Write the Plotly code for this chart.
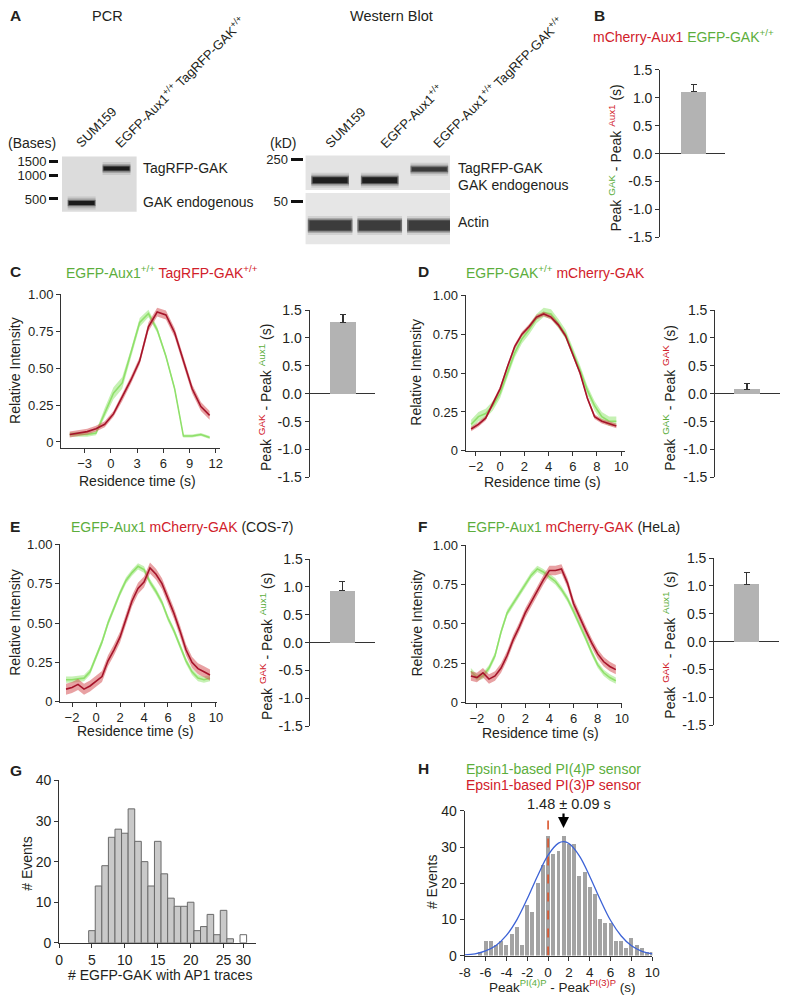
import plotly.graph_objects as go

# ---------------- data ----------------
# Panel A: PCR gel
pcr_lanes = [1, 2]
pcr_lane_labels = ["SUM159", "EGFP-Aux1<sup>+/+</sup> TagRFP-GAK<sup>+/+</sup>"]
pcr_band_bases = [446, 1225]
pcr_ladder_bases = [500, 1000, 1500]
# Panel A: Western blot
wb_lanes = [1, 2, 3]
wb_lane_labels = ["SUM159", "EGFP-Aux1<sup>+/+</sup>",
                  "EGFP-Aux1<sup>+/+</sup> TagRFP-GAK<sup>+/+</sup>"]
wb_gak_kd = [143, 143, 200]
wb_actin_kd = [42, 42, 42]
wb_upper_ladder = [250]
wb_lower_ladder = [50]

# Peak-time differences (s), panels B-F
peak_panels = ["B", "C", "D", "E", "F"]
peak_diff_mean = [1.11, 1.28, 0.08, 0.93, 1.03]
peak_diff_sem = [0.13, 0.14, 0.11, 0.17, 0.21]

# Panel C
c_time = [-4.7, -3.7, -2.7, -1.7, -0.7, 0.3, 1.3, 2.3, 3.3, 4.3, 5.3, 6.3, 7.3, 8.3, 9.3, 10.3, 11.3]
c_green = [0.05, 0.05, 0.05, 0.06, 0.20, 0.33, 0.40, 0.60, 0.81, 0.87, 0.76, 0.58, 0.36, 0.04, 0.04, 0.05, 0.03]
c_green_sem = [0.015, 0.015, 0.015, 0.015, 0.03, 0.04, 0.04, 0.03, 0.03, 0.025, 0.02, 0.015, 0.015, 0.01, 0.01, 0.01, 0.01]
c_red = [0.05, 0.06, 0.07, 0.09, 0.12, 0.19, 0.30, 0.42, 0.55, 0.78, 0.88, 0.86, 0.74, 0.55, 0.36, 0.24, 0.18]
c_red_sem = [0.02, 0.02, 0.02, 0.02, 0.02, 0.02, 0.025, 0.025, 0.025, 0.03, 0.03, 0.03, 0.03, 0.03, 0.03, 0.03, 0.03]

# Panel D
d_time = [-2.4, -1.8, -1.2, -0.6, 0.0, 0.6, 1.2, 1.8, 2.4, 3.0, 3.6, 4.2, 4.8, 5.4, 6.0, 6.6, 7.2, 7.8, 8.4, 9.0, 9.6]
d_green = [0.17, 0.22, 0.24, 0.29, 0.37, 0.50, 0.63, 0.72, 0.78, 0.85, 0.89, 0.88, 0.82, 0.75, 0.64, 0.52, 0.39, 0.29, 0.22, 0.19, 0.19]
d_red = [0.14, 0.17, 0.21, 0.30, 0.40, 0.54, 0.67, 0.75, 0.80, 0.86, 0.88, 0.86, 0.81, 0.74, 0.62, 0.50, 0.34, 0.22, 0.19, 0.175, 0.16]
d_green_sem = 0.03
d_red_sem = 0.015

# Panels E and F (same time grid)
ef_time = [-2.5, -2.0, -1.5, -1.0, -0.5, 0.0, 0.5, 1.0, 1.5, 2.0, 2.5, 3.0, 3.5,
           4.0, 4.5, 5.0, 5.5, 6.0, 6.5, 7.0, 7.5, 8.0, 8.5, 9.0, 9.5]
e_green = [0.14, 0.14, 0.145, 0.15, 0.19, 0.29, 0.38, 0.50, 0.60, 0.69, 0.77, 0.82, 0.86,
           0.84, 0.76, 0.70, 0.63, 0.53, 0.45, 0.36, 0.26, 0.19, 0.15, 0.14, 0.15]
e_red = [0.08, 0.09, 0.11, 0.08, 0.10, 0.13, 0.16, 0.26, 0.33, 0.41, 0.52, 0.64, 0.72,
         0.76, 0.85, 0.81, 0.75, 0.66, 0.56, 0.45, 0.33, 0.25, 0.21, 0.19, 0.17]
e_green_sem = 0.02
e_red_sem = 0.035
f_green = [0.20, 0.16, 0.17, 0.22, 0.30, 0.45, 0.57, 0.63, 0.69, 0.75, 0.81, 0.85, 0.83,
           0.80, 0.77, 0.72, 0.66, 0.58, 0.50, 0.41, 0.32, 0.24, 0.19, 0.16, 0.14]
f_red = [0.17, 0.16, 0.19, 0.15, 0.17, 0.22, 0.30, 0.40, 0.48, 0.57, 0.64, 0.71, 0.78,
         0.84, 0.84, 0.85, 0.76, 0.63, 0.54, 0.46, 0.38, 0.31, 0.26, 0.23, 0.21]
f_green_sem = 0.02
f_red_sem = 0.03

# Panel G histogram
g_bins = [5, 6, 7, 8, 9, 10, 11, 12, 13, 14, 15, 16, 17, 18, 19, 20, 21, 22, 23, 24, 25, 26]
g_counts = [3, 14, 19, 26, 28, 27, 33, 25, 20, 14, 25, 17, 11, 9, 9, 10, 3, 4, 7, 2, 8, 1]
g_outlier_bin = [28]
g_outlier_count = [2]
g_tickvals = [0, 5, 10, 15, 20, 25, 28]
g_ticktext = ["0", "5", "10", "15", "20", "25", "30"]

# Panel H histogram + gaussian fit
h_bins = [-6.5, -6.0, -5.5, -5.0, -4.5, -4.0, -3.5, -3.0, -2.5, -2.0, -1.5, -1.0, -0.5, 0.0,
          0.5, 1.0, 1.5, 2.0, 2.5, 3.0, 3.5, 4.0, 4.5, 5.0, 5.5, 6.0, 6.5, 7.0, 7.5, 8.0,
          8.5, 9.0, 9.5, 10.0]
h_counts = [1, 4, 4, 3, 4, 3, 6, 8, 3, 14, 12, 20, 25, 33,
            28, 29, 33, 31, 31, 22, 23, 19, 17, 10, 9, 9, 4, 4, 2, 5,
            3, 2, 1, 1]
h_fit_x = [-8, -7, -6, -5, -4, -3, -2, -1, 0, 1, 1.5, 2, 3, 4, 5, 6, 7, 8, 9, 10]
h_fit_y = [0.2, 0.5, 1.3, 2.8, 5.6, 9.9, 15.7, 22.1, 27.8, 31.1, 31.5, 31.0, 27.6, 21.9,
           15.5, 9.7, 5.5, 2.7, 1.2, 0.5]
h_ref_x = [0, 0]
h_ref_y = [0, 39]
h_peak_shift = 1.48
h_arrow_y = 35.3

# ---------------- styling ----------------
W, H = 788, 1001
FONT = "Liberation Sans, Arial, Helvetica, sans-serif"
TXT = "#231f20"
GREEN_TXT = "#5cae3c"
RED_TXT = "#d1202a"
GREEN_LINE = "#8fe06a"
GREEN_BAND = "rgba(160,232,130,0.6)"
RED_LINE = "#a5142a"
RED_BAND = "rgba(214,84,88,0.55)"
BAR_C = "#b3b3b3"
AX = "#333333"
FS = 14          # general label size
FS_TICK = 13     # line-plot tick labels


def px(x):
    return x / W


def py(y):
    return 1 - y / H


traces = []
layout = {}
ann = []
shapes = []


def axes(n, x0, x1, y0, y1, xa, ya):
    xk = "xaxis" if n == 1 else "xaxis%d" % n
    yk = "yaxis" if n == 1 else "yaxis%d" % n
    xn = "x" if n == 1 else "x%d" % n
    yn = "y" if n == 1 else "y%d" % n
    xd = dict(domain=[px(x0), px(x1)], anchor=yn)
    xd.update(xa)
    yd = dict(domain=[py(y1), py(y0)], anchor=xn)
    yd.update(ya)
    layout[xk] = xd
    layout[yk] = yd
    return xn, yn


def ax_style(size=FS_TICK, **kw):
    d = dict(showgrid=False, zeroline=False, showline=True, linecolor=AX, linewidth=1,
             ticks="outside", ticklen=4, tickwidth=1, tickcolor=AX,
             tickfont=dict(family=FONT, size=size, color=TXT), fixedrange=True)
    d.update(kw)
    return d


def text(x, y, s, size=FS, color=TXT, xanchor="left", yanchor="middle", angle=0, bold=False):
    ann.append(dict(x=px(x), y=py(y), xref="paper", yref="paper",
                    text=("<b>%s</b>" % s) if bold else s, showarrow=False,
                    xanchor=xanchor, yanchor=yanchor, textangle=angle,
                    font=dict(family=FONT, size=size, color=color)))


def rect(x0, y0, x1, y1, color):
    shapes.append(dict(type="rect", xref="paper", yref="paper", x0=px(x0), x1=px(x1),
                       y0=py(y1), y1=py(y0), fillcolor=color, line=dict(width=0), layer="below"))


def band(xa, ya, lane, yval, half, width, color):
    for extra, alpha in [(9, 0.10), (5, 0.22), (2, 0.45)]:
        traces.append(go.Scatter(x=[lane - half, lane + half], y=[yval, yval], mode="lines",
                                 line=dict(color="rgba(30,30,30,%.2f)" % alpha, width=width + extra),
                                 xaxis=xa, yaxis=ya, hoverinfo="skip", showlegend=False))
    traces.append(go.Scatter(x=[lane - half * 0.93, lane + half * 0.93], y=[yval, yval], mode="lines",
                             line=dict(color=color, width=width), xaxis=xa, yaxis=ya,
                             hoverinfo="skip", showlegend=False))


def span(s, c):
    return '<span style="color:%s">%s</span>' % (c, s)


# ================= Panel A =================
text(2, 8, "A", size=15.5, bold=True)
text(103, 8, "PCR", size=14.5, xanchor="center")
text(392, 8, "Western Blot", size=14.5, xanchor="center")

# PCR gel
rect(57, 151, 133, 207, "#dcdcdc")
xa, ya = axes(1, 57, 133, 151, 207,
              dict(visible=False, range=[0.437, 2.577], fixedrange=True),
              dict(type="log", range=[2.537, 3.239], anchor="free", position=px(53),
                   showgrid=False, zeroline=False, showline=False, ticks="outside",
                   ticklen=9, tickwidth=3, tickcolor="#111", tickvals=pcr_ladder_bases,
                   ticktext=[str(v) for v in pcr_ladder_bases],
                   tickfont=dict(family=FONT, size=13, color=TXT), fixedrange=True))
for lane, b in zip(pcr_lanes, pcr_band_bases):
    band(xa, ya, lane, b, 0.4, 4, "#1b1b1b")
text(0, 137, "(Bases)", size=14)
text(137, 163, "TagRFP-GAK", size=FS)
text(137, 197, "GAK endogenous", size=FS)
for lbl, x0 in zip(pcr_lane_labels, [65, 104]):
    text(x0, 148, lbl, size=13, xanchor="left", yanchor="bottom", angle=-45)

# Western blot
rect(305, 150, 452, 185, "#e3e3e3")
rect(305, 188, 452, 240, "#e6e6e6")
xa2, ya2 = axes(2, 305, 452, 150, 185,
                dict(visible=False, range=[0.505, 3.416], fixedrange=True),
                dict(range=[91.8, 270.4], anchor="free", position=px(302),
                     showgrid=False, zeroline=False, showline=False, ticks="outside",
                     ticklen=12, tickwidth=3, tickcolor="#111", tickvals=wb_upper_ladder,
                     ticktext=[str(v) for v in wb_upper_ladder],
                     tickfont=dict(family=FONT, size=13, color=TXT), fixedrange=True))
xa3, ya3 = axes(3, 305, 452, 188, 240,
                dict(visible=False, range=[0.505, 3.416], fixedrange=True),
                dict(range=[35.7, 53.0], anchor="free", position=px(302),
                     showgrid=False, zeroline=False, showline=False, ticks="outside",
                     ticklen=12, tickwidth=3, tickcolor="#111", tickvals=wb_lower_ladder,
                     ticktext=[str(v) for v in wb_lower_ladder],
                     tickfont=dict(family=FONT, size=13, color=TXT), fixedrange=True))
for lane, kd in zip(wb_lanes, wb_gak_kd):
    if kd > 180:
        band(xa2, ya2, lane, kd, 0.38, 4, "#3a3a3a")
    else:
        band(xa2, ya2, lane, kd, 0.38, 6, "#1f1f1f")
for lane, kd in zip(wb_lanes, wb_actin_kd):
    band(xa3, ya3, lane, kd, 0.45, 10, "#3c3c3c")
text(267, 137, "(kD)", size=14)
text(458, 163, "TagRFP-GAK", size=FS)
text(458, 180, "GAK endogenous", size=FS)
text(458, 217, "Actin", size=FS)
for lbl, x0 in zip(wb_lane_labels, [319, 374, 428]):
    text(x0, 148, lbl, size=13, xanchor="left", yanchor="bottom", angle=-45)

# ================= bar panels =================
bar_ticks = [-1.5, -1.0, -0.5, 0.0, 0.5, 1.0, 1.5]
bar_ticktext = ["-1.5", "-1.0", "-0.5", "0.0", "0.5", "1.0", "1.5"]


def bar_panel(n, mean, sem, axl, axr, top, bottom, cx, bw, title, tx):
    xa, ya = axes(n, axl, axr, top, bottom,
                  dict(visible=False, range=[-(cx - axl), axr - cx], fixedrange=True),
                  ax_style(size=14, range=[-1.5, 1.5], tickvals=bar_ticks, ticktext=bar_ticktext,
                           zeroline=True, zerolinecolor=AX, zerolinewidth=1.2))
    traces.append(go.Bar(x=[0], y=[mean], width=[bw], marker=dict(color=BAR_C, line=dict(width=0)),
                         error_y=dict(type="data", array=[sem], arrayminus=[0], symmetric=False,
                                      color=AX, thickness=1.2, width=3),
                         xaxis=xa, yaxis=ya, showlegend=False, hoverinfo="skip"))
    text(tx, (top + bottom) / 2 + 4, title, size=FS, xanchor="center", yanchor="middle", angle=-90)


def ytitle(a, a_col, b, b_col):
    return ('Peak <sup>%s</sup> - Peak <sup>%s</sup> (s)' % (span(a, a_col), span(b, b_col)))


# Panel B
text(597, 8, "B", size=15.5, bold=True)
text(596, 28, span("mCherry-Aux1", RED_TXT) + " " + span("EGFP-GAK<sup>+/+</sup>", GREEN_TXT), size=FS)
bar_panel(4, peak_diff_mean[0], peak_diff_sem[0], 666, 732, 63, 233, 700, 26,
          ytitle("GAK", GREEN_TXT, "Aux1", RED_TXT), 620)

# ================= line panels =================
ytv = [0, 0.25, 0.5, 0.75, 1.0]
ytt = ["0", "0.25", "0.50", "0.75", "1.00"]


def curve(xa, ya, t, y, sem, line_c, band_c):
    if not isinstance(sem, list):
        sem = [sem] * len(y)
    lo = [v - s for v, s in zip(y, sem)]
    hi = [v + s for v, s in zip(y, sem)]
    traces.append(go.Scatter(x=t, y=lo, mode="lines", line=dict(width=0, color=band_c),
                             xaxis=xa, yaxis=ya, hoverinfo="skip", showlegend=False))
    traces.append(go.Scatter(x=t, y=hi, mode="lines", line=dict(width=0, color=band_c),
                             fill="tonexty", fillcolor=band_c,
                             xaxis=xa, yaxis=ya, hoverinfo="skip", showlegend=False))
    traces.append(go.Scatter(x=t, y=y, mode="lines", line=dict(width=1.6, color=line_c),
                             xaxis=xa, yaxis=ya, hoverinfo="skip", showlegend=False))


def line_panel(n, x0, x1, y0, y1, xr, yr, xticks, t, g, gs, r, rs, ri_x, rt_y):
    xa, ya = axes(n, x0, x1, y0, y1,
                  ax_style(range=xr, tickvals=xticks),
                  ax_style(range=yr, tickvals=ytv, ticktext=ytt))
    curve(xa, ya, t, g, gs, GREEN_LINE, GREEN_BAND)
    curve(xa, ya, t, r, rs, RED_LINE, RED_BAND)
    text(ri_x, (y0 + y1) / 2 - 1, "Relative Intensity", size=FS, xanchor="center", angle=-90)
    text((x0 + x1) / 2 - 3, rt_y, "Residence time (s)", size=FS, xanchor="center")


# Panel C
text(2, 268, "C", size=15.5, bold=True)
text(59, 268, span("EGFP-Aux1<sup>+/+</sup>", GREEN_TXT) + " " + span("TagRFP-GAK<sup>+/+</sup>", RED_TXT), size=FS)
line_panel(5, 56, 218, 291, 447, [-5.7, 12.5], [-0.04, 1.0], [-3, 0, 3, 6, 9, 12],
           c_time, c_green, c_green_sem, c_red, c_red_sem, 9, 481)
bar_panel(6, peak_diff_mean[1], peak_diff_sem[1], 309, 376, 307, 477, 343, 26,
          ytitle("GAK", RED_TXT, "Aux1", GREEN_TXT), 263)

# Panel D
text(417, 268, "D", size=15.5, bold=True)
text(466, 268, span("EGFP-GAK<sup>+/+</sup>", GREEN_TXT) + " " + span("mCherry-GAK", RED_TXT), size=FS)
line_panel(7, 468, 630, 292, 450, [-2.85, 10.3], [0, 1.0], [-2, 0, 2, 4, 6, 8, 10],
           d_time, d_green, d_green_sem, d_red, d_red_sem, 418, 482)
bar_panel(8, peak_diff_mean[2], peak_diff_sem[2], 722, 788, 307, 477, 754.5, 26,
          ytitle("GAK", GREEN_TXT, "GAK", RED_TXT), 675)

# Panel E
text(2, 527, "E", size=15.5, bold=True)
text(64, 527, span("EGFP-Aux1", GREEN_TXT) + " " + span("mCherry-GAK", RED_TXT) + " (COS-7)", size=FS)
line_panel(9, 55, 215, 545, 705, [-3.0, 10.1], [0, 1.0], [-2, 0, 2, 4, 6, 8, 10],
           ef_time, e_green, e_green_sem, e_red, e_red_sem, 9, 735)
bar_panel(10, peak_diff_mean[3], peak_diff_sem[3], 310, 376, 560, 730, 342.5, 26,
          ytitle("GAK", RED_TXT, "Aux1", GREEN_TXT), 264)

# Panel F
text(417, 527, "F", size=15.5, bold=True)
text(467, 527, span("EGFP-Aux1", GREEN_TXT) + " " + span("mCherry-GAK", RED_TXT) + " (HeLa)", size=FS)
line_panel(11, 468, 627, 546, 706, [-2.93, 10.0], [0, 1.0], [-2, 0, 2, 4, 6, 8, 10],
           ef_time, f_green, f_green_sem, f_red, f_red_sem, 418, 737)
bar_panel(12, peak_diff_mean[4], peak_diff_sem[4], 721, 787, 559, 729, 754, 26,
          ytitle("GAK", RED_TXT, "Aux1", GREEN_TXT), 675)

# ================= Panel G =================
text(2, 775, "G", size=15.5, bold=True)
xg, yg = axes(13, 54, 255, 785, 950,
              ax_style(size=14, range=[0, 30], tickvals=g_tickvals, ticktext=g_ticktext),
              ax_style(size=14, range=[0, 40], tickvals=[0, 10, 20, 30, 40]))
traces.append(go.Bar(x=g_bins, y=g_counts, width=1.0,
                     marker=dict(color="#c9c9c9", line=dict(color="#6a6a6a", width=1)),
                     xaxis=xg, yaxis=yg, showlegend=False, hoverinfo="skip"))
traces.append(go.Bar(x=g_outlier_bin, y=g_outlier_count, width=1.0,
                     marker=dict(color="#ffffff", line=dict(color="#6a6a6a", width=1)),
                     xaxis=xg, yaxis=yg, showlegend=False, hoverinfo="skip"))
text(21, 870, "# Events", size=FS, xanchor="center", angle=-90)
text(157, 983, "# EGFP-GAK with AP1 traces", size=FS, xanchor="center")

# ================= Panel H =================
text(417, 773, "H", size=15.5, bold=True)
text(557, 773, span("Epsin1-based PI(4)P sensor", GREEN_TXT), size=FS, xanchor="center")
text(557, 790, span("Epsin1-based PI(3)P sensor", RED_TXT), size=FS, xanchor="center")
h_xt = [-8, -6, -4, -2, 0, 2, 4, 6, 8, 10]
xh, yh = axes(14, 467, 658, 816, 963,
              ax_style(size=13.5, range=[-8, 10], tickvals=h_xt, ticktext=[str(v) for v in h_xt]),
              ax_style(size=14, range=[0, 40], tickvals=[0, 10, 20, 30, 40]))
traces.append(go.Bar(x=h_bins, y=h_counts, width=0.38, marker=dict(color="#a3a3a3", line=dict(width=0)),
                     xaxis=xh, yaxis=yh, showlegend=False, hoverinfo="skip"))
traces.append(go.Scatter(x=h_ref_x, y=h_ref_y, mode="lines",
                         line=dict(color="#d9532b", width=1.6, dash="dash"),
                         xaxis=xh, yaxis=yh, showlegend=False, hoverinfo="skip"))
traces.append(go.Scatter(x=h_fit_x, y=h_fit_y, mode="lines", line=dict(color="#3d63d6", width=1.3, shape="spline"),
                         xaxis=xh, yaxis=yh, showlegend=False, hoverinfo="skip"))
text(573, 809, "%.2f ± 0.09 s" % h_peak_shift, size=14.5, xanchor="center")
ann.append(dict(x=h_peak_shift, y=h_arrow_y, xref=xh, yref=yh, text="", showarrow=True,
                ax=0, ay=-16, arrowhead=2, arrowsize=1, arrowwidth=2.2, arrowcolor="#000"))
text(434, 888, "# Events", size=FS, xanchor="center", angle=-90)
text(567, 994, "Peak<sup>" + span("PI(4)P", GREEN_TXT) + "</sup> - Peak<sup>" + span("PI(3)P", RED_TXT) + "</sup> (s)",
     size=13.5, xanchor="center")

layout.update(dict(width=W, height=H, margin=dict(l=0, r=0, t=0, b=0),
                   paper_bgcolor="white", plot_bgcolor="rgba(0,0,0,0)",
                   font=dict(family=FONT, color=TXT), showlegend=False,
                   annotations=ann, shapes=shapes, bargap=0))

fig = go.Figure(data=traces, layout=layout)
fig.write_html("out.html", config={"displayModeBar": False, "staticPlot": True},
               post_script="document.body.style.margin='0px';document.body.style.padding='0px';")
